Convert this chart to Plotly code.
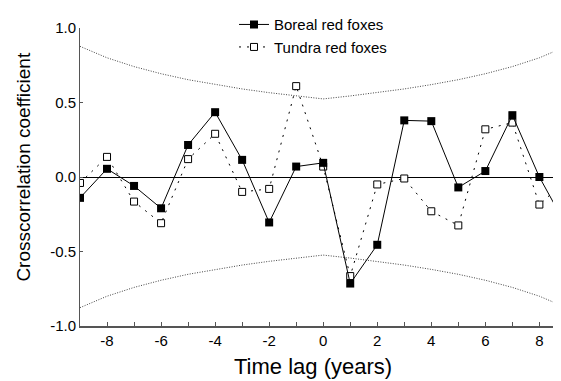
import plotly.graph_objects as go

lags = [-9, -8, -7, -6, -5, -4, -3, -2, -1, 0, 1, 2, 3, 4, 5, 6, 7, 8, 9]
boreal = [-0.14, 0.055, -0.06, -0.21, 0.215, 0.435, 0.115, -0.305, 0.07, 0.095,
          -0.715, -0.455, 0.38, 0.375, -0.07, 0.04, 0.415, 0.0, -0.33]
tundra = [-0.04, 0.135, -0.165, -0.31, 0.12, 0.29, -0.10, -0.08, 0.61, 0.07,
          -0.665, -0.05, -0.01, -0.23, -0.325, 0.32, 0.365, -0.185, -0.02]
band_upper = [0.877, 0.800, 0.741, 0.693, 0.653, 0.620, 0.591, 0.566, 0.544, 0.524,
              0.544, 0.566, 0.591, 0.620, 0.653, 0.693, 0.741, 0.800, 0.877]
band_lower = [-v for v in band_upper]
x_ticks = [-8, -6, -4, -2, 0, 2, 4, 6, 8]
y_ticks = [-1.0, -0.5, 0.0, 0.5, 1.0]
names = ["Boreal red foxes", "Tundra red foxes"]

FONT = "Liberation Sans, Arial, sans-serif"

# page has an 8px body margin; plot area spans page px x 80..561, y 25..326
fig = go.Figure()
for band in (band_upper, band_lower):
    fig.add_trace(go.Scatter(x=lags, y=band, mode="lines", showlegend=False,
                             line=dict(color="#444444", width=1, dash="1px,1.5px"),
                             hoverinfo="skip"))
fig.add_trace(go.Scatter(x=lags, y=tundra, mode="lines+markers", name=names[1],
                         line=dict(color="black", width=1, dash="2px,6px"),
                         marker=dict(symbol="square", size=7, color="white",
                                     line=dict(color="black", width=1))))
fig.add_trace(go.Scatter(x=lags, y=boreal, mode="lines+markers", name=names[0],
                         line=dict(color="black", width=1),
                         marker=dict(symbol="square", size=8, color="black",
                                     line=dict(color="black", width=0))))

fig.update_layout(
    width=553, height=373,
    margin=dict(l=72, r=0, t=17, b=55),
    paper_bgcolor="white", plot_bgcolor="white",
    font=dict(family=FONT, size=15, color="black"),
    showlegend=True,
    legend=dict(x=(234 - 80) / 481, y=(326 - 5) / 301, xanchor="left", yanchor="top",
                bgcolor="rgba(0,0,0,0)", borderwidth=0, traceorder="reversed",
                font=dict(family=FONT, size=15, color="black")),
    xaxis=dict(range=[-9, 8.8], tickvals=x_ticks, ticktext=[str(v) for v in x_ticks],
               ticks="inside", ticklen=4, tickcolor="#555555", tickwidth=1,
               minor=dict(dtick=1, tick0=0, ticks="inside", ticklen=4, tickcolor="#555555"),
               showline=True, linecolor="#555555", linewidth=2,
               showgrid=False, zeroline=False, tickfont=dict(size=15)),
    yaxis=dict(range=[-1, 1], tickvals=y_ticks, ticktext=[f"{v:.1f}" for v in y_ticks],
               ticks="inside", ticklen=3, tickcolor="#555555", tickwidth=1,
               showline=True, linecolor="#555555", linewidth=1,
               showgrid=False, zeroline=True, zerolinecolor="black", zerolinewidth=1,
               tickfont=dict(size=15)),
    annotations=[
        dict(text="Time lag (years)", xref="paper", yref="paper",
             x=(312.5 - 80) / 481, y=(326 - 367) / 301, xanchor="center", yanchor="middle",
             showarrow=False, font=dict(size=22)),
        dict(text="Crosscorrelation coefficient", xref="paper", yref="paper",
             x=(24 - 80) / 481, y=(326 - 165) / 301, xanchor="center", yanchor="middle",
             textangle=-90, showarrow=False, font=dict(size=19)),
    ],
)

fig.write_html("out.html")
